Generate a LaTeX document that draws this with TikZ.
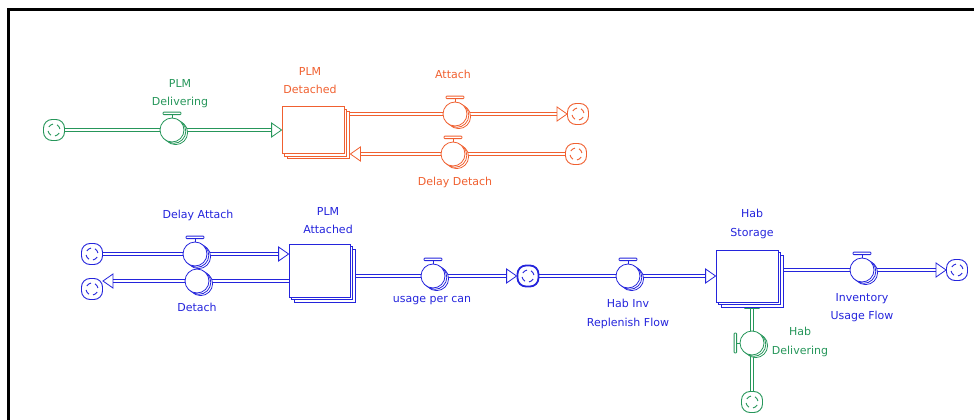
\documentclass[tikz,border=0pt]{standalone}
\usepackage{fontspec}
\setmainfont{DejaVu Sans}
\usepackage{xcolor}
\definecolor{flowgreen}{RGB}{38,150,90}
\definecolor{floworange}{RGB}{240,96,48}
\definecolor{flowblue}{RGB}{36,36,220}
\usepackage{tikz}
\usetikzlibrary{calc}
\usetikzlibrary{shadows}
\usetikzlibrary{backgrounds}
% open arrow heads of the pipes, tip at #1
\newcommand{\tipeast}[2]{\draw[head=#2] (#1) -- ++(-10,-7) -- ++(0,14) -- cycle;}
\newcommand{\tipwest}[2]{\draw[head=#2] (#1) -- ++(10,-7) -- ++(0,14) -- cycle;}
\newcommand{\tipnorth}[2]{\draw[head=#2] (#1) -- ++(-7,10) -- ++(14,0) -- cycle;}
% handle of a valve
\newcommand{\valvetop}[2]{
    \draw[handle=#2] (#1.north) -- ([yshift=3pt]#1.north);
    \draw[handle=#2] ([xshift=-9pt,yshift=3pt]#1.north) rectangle ([xshift=9pt,yshift=5.5pt]#1.north);
}
\newcommand{\valveleft}[2]{
    \draw[handle=#2] (#1.west) -- ([xshift=-3pt]#1.west);
    \draw[handle=#2] ([xshift=-3pt,yshift=-10pt]#1.west) rectangle ([xshift=-5.5pt,yshift=10pt]#1.west);
}
\tikzset{
    pipe/.style={draw=#1, double=white, double distance=2.6pt, line width=0.8pt},
    head/.style={draw=#1, fill=white, line width=0.8pt},
    handle/.style={draw=#1, fill=white, line width=0.8pt, rounded corners=0.8pt},
    valve/.style={draw=#1, fill=white, circle, minimum size=24pt, inner sep=0pt, line width=0.8pt,
        general shadow={shadow xshift=3.6pt, shadow yshift=-2.6pt, draw=#1, fill=white},
        general shadow={shadow xshift=1.8pt, shadow yshift=-1.3pt, draw=#1, fill=white}},
    stock/.style={draw=#1, fill=white, rectangle, inner sep=0pt, line width=0.8pt,
        general shadow={shadow xshift=5pt, shadow yshift=-5pt, draw=#1, fill=white},
        general shadow={shadow xshift=2.5pt, shadow yshift=-2.5pt, draw=#1, fill=white}},
    cloud/.style={draw=#1, fill=white, rectangle, rounded corners=8.5pt, minimum size=21pt,
        inner sep=0pt, line width=0.9pt,
        path picture={
            \foreach \a in {10,100,190,280}
                \draw[#1, line width=0.9pt] ($(path picture bounding box.center)+(\a:6pt)$)
                    arc[start angle=\a, end angle=\a+50, radius=6pt];
        }},
    lbl/.style={text=#1, align=center, anchor=north, inner sep=0pt, font=\fontsize{11}{18.5}\selectfont}
}
\begin{document}
\begin{tikzpicture}[x=1pt, y=-1pt]
    \useasboundingbox (0,0) rectangle (974,420);
    \draw[line width=3pt] (8.5,420) -- (8.5,9.5) -- (974,9.5);

    % PLM detached chain
    \node[cloud=flowgreen] (srcdeliv) at (54,130) {};
    \node[valve=flowgreen] (deliv) at (172,130) {};
    \node[stock=floworange, minimum width=62pt, minimum height=47pt] (detached) at (313,130) {};
    \node[valve=floworange] (attach) at (455,114) {};
    \node[cloud=floworange] (sinkattach) at (578,114) {};
    \node[valve=floworange] (ddetach) at (453,154) {};
    \node[cloud=floworange] (srcddetach) at (576,154) {};
    \coordinate (ddtip) at ($(detached.east |- ddetach)+(6,0)$);

    % PLM attached chain
    \node[cloud=flowblue] (srcdattach) at (92,254) {};
    \node[valve=flowblue] (dattach) at (195,254) {};
    \node[valve=flowblue] (detach) at (197,281) {};
    \node[cloud=flowblue] (sinkdetach) at (92,289) {};
    \node[stock=flowblue, minimum width=61pt, minimum height=53pt] (attached) at (319.5,270.5) {};
    \node[valve=flowblue] (usage) at (433,276) {};
    \node[cloud=flowblue, line width=1.8pt] (midcloud) at (528,276) {};
    \coordinate (dattachtip) at (attached.west |- dattach);
    \coordinate (detachtip) at (sinkdetach.east |- detach);

    % hab storage chain
    \node[valve=flowblue] (hinv) at (628,276) {};
    \node[stock=flowblue, minimum width=62pt, minimum height=52pt] (storage) at (747,276) {};
    \node[valve=flowblue] (invuse) at (862,270) {};
    \node[cloud=flowblue] (sinkinv) at (957,270) {};
    \node[valve=flowgreen] (hdel) at (752,343) {};
    \node[cloud=flowgreen] (srchab) at (752,402) {};
    \coordinate (habtip) at ($(hdel |- storage.south)+(0,-4)$);

    \begin{scope}[on background layer]
        \draw[pipe=flowgreen] (srcdeliv) -- (deliv) -- ([xshift=-10pt]detached.west);
        \draw[pipe=floworange] (detached.east |- attach) -- (attach) -- ([xshift=-10pt]sinkattach.west);
        \draw[pipe=floworange] (srcddetach) -- (ddetach) -- ([xshift=10pt]ddtip);
        \draw[pipe=flowblue] (srcdattach) -- (dattach) -- ([xshift=-10pt]dattachtip);
        \draw[pipe=flowblue] (attached.west |- detach) -- (detach) -- ([xshift=10pt]detachtip);
        \draw[pipe=flowblue] (attached.east |- usage) -- (usage) -- ([xshift=-10pt]midcloud.west);
        \draw[pipe=flowblue] (midcloud) -- (hinv) -- ([xshift=-10pt]storage.west);
        \draw[pipe=flowblue] (storage.east |- invuse) -- (invuse) -- ([xshift=-10pt]sinkinv.west);
        \draw[pipe=flowgreen] (srchab) -- (hdel) -- ([yshift=-10pt]habtip);
        \tipnorth{habtip}{flowgreen}
    \end{scope}

    \tipeast{detached.west}{flowgreen}
    \tipeast{sinkattach.west}{floworange}
    \tipwest{ddtip}{floworange}
    \tipeast{dattachtip}{flowblue}
    \tipwest{detachtip}{flowblue}
    \tipeast{midcloud.west}{flowblue}
    \tipeast{storage.west}{flowblue}
    \tipeast{sinkinv.west}{flowblue}

    \valvetop{deliv}{flowgreen}
    \valvetop{attach}{floworange}
    \valvetop{ddetach}{floworange}
    \valvetop{dattach}{flowblue}
    \valvetop{usage}{flowblue}
    \valvetop{hinv}{flowblue}
    \valvetop{invuse}{flowblue}
    \valveleft{hdel}{flowgreen}

    % labels
    \node[lbl=flowgreen] (delivlbl) at (180,79) {PLM\\Delivering};
    \node[lbl=floworange] (detachedlbl) at (310,67) {PLM\\Detached};
    \node[lbl=floworange] (attachlbl) at (453,70) {Attach};
    \node[lbl=floworange] (ddetachlbl) at (455,177) {Delay Detach};
    \node[lbl=flowblue] (dattachlbl) at (198,210) {Delay Attach};
    \node[lbl=flowblue] (detachlbl) at (197,303) {Detach};
    \node[lbl=flowblue] (attachedlbl) at (328,207) {PLM\\Attached};
    \node[lbl=flowblue] (usagelbl) at (432,296) {usage per can};
    \node[lbl=flowblue] (hinvlbl) at (628,299) {Hab Inv\\Replenish Flow};
    \node[lbl=flowblue] (storagelbl) at (752,209) {Hab\\Storage};
    \node[lbl=flowblue] (invuselbl) at (862,293) {Inventory\\Usage Flow};
    \node[lbl=flowgreen] (hdellbl) at (800,327) {Hab\\Delivering};
\end{tikzpicture}
\end{document}
